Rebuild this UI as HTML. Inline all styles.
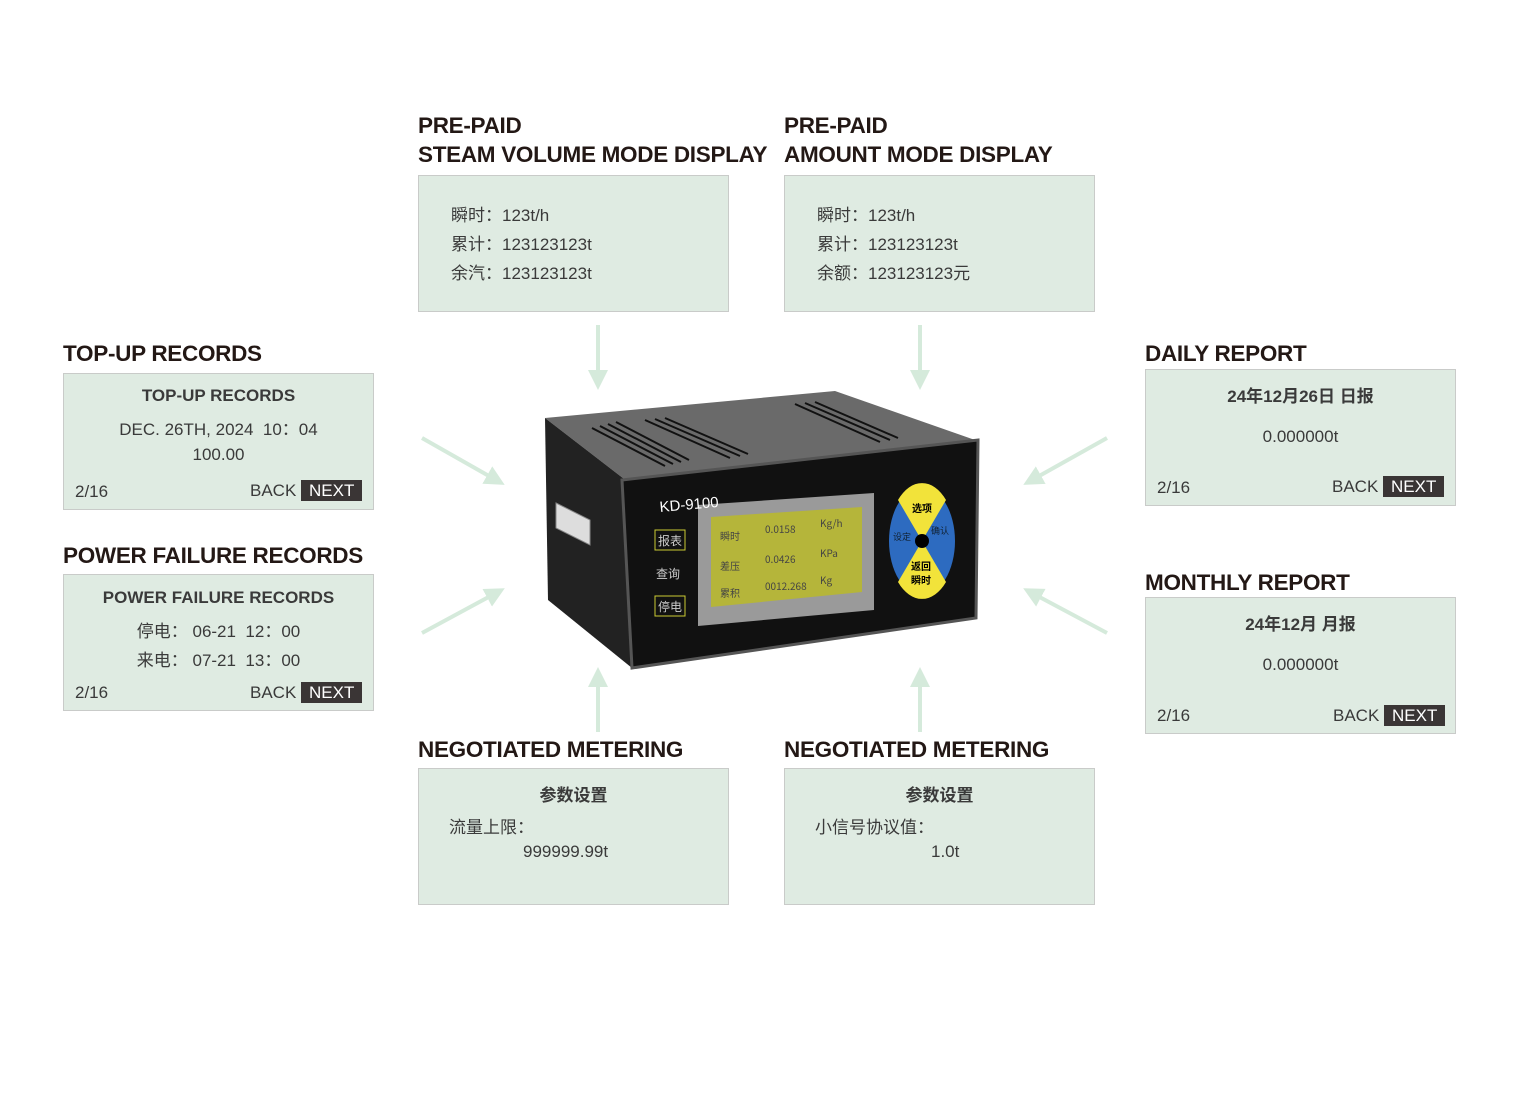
<!DOCTYPE html>
<html><head><meta charset="utf-8"><style>
body{margin:0;width:1520px;height:1095px;background:#fff;position:relative;font-family:"Liberation Sans","Noto Sans CJK SC",sans-serif;overflow:hidden}
.t{position:absolute;font-weight:bold;font-size:22.5px;color:#231815;line-height:29px;letter-spacing:-0.3px;white-space:nowrap}
.b{position:absolute;width:309px;height:135px;background:#dfebe2;border:1px solid #c9cbc9;box-sizing:border-box;color:#3a3a3a;font-size:17px}
.b div{position:absolute;white-space:nowrap}
.c{left:0;right:0;text-align:center}
.nx{background:#3a3535;color:#fff;padding:1px 8px}
.bold{font-weight:bold}
</style></head><body>
<div class="t" style="left:418px;top:111px">PRE-PAID<br>STEAM VOLUME MODE DISPLAY</div>
<div class="t" style="left:784px;top:111px">PRE-PAID<br>AMOUNT MODE DISPLAY</div>
<div class="t" style="left:63px;top:339px">TOP-UP RECORDS</div>
<div class="t" style="left:63px;top:541px">POWER FAILURE RECORDS</div>
<div class="t" style="left:1145px;top:339px">DAILY REPORT</div>
<div class="t" style="left:1145px;top:568px">MONTHLY REPORT</div>
<div class="t" style="left:418px;top:735px">NEGOTIATED METERING</div>
<div class="t" style="left:784px;top:735px">NEGOTIATED METERING</div>

<div class="b" style="left:418px;top:175px;height:137px;width:311px"><div style="left:32px;top:25px;line-height:29px">瞬时：123t/h<br>累计：123123123t<br>余汽：123123123t</div></div>
<div class="b" style="left:784px;top:175px;height:137px;width:311px"><div style="left:32px;top:25px;line-height:29px">瞬时：123t/h<br>累计：123123123t<br>余额：123123123元</div></div>

<div class="b" style="left:63px;top:373px;width:311px;height:137px">
<div class="c bold" style="top:12px">TOP-UP RECORDS</div>
<div class="c" style="top:41px">DEC. 26TH, 2024&nbsp; 10：04</div>
<div class="c" style="top:71px">100.00</div>
<div style="left:11px;top:108px">2/16</div>
<div style="left:186px;top:107px">BACK <span class="nx">NEXT</span></div></div>

<div class="b" style="left:63px;top:574px;width:311px;height:137px">
<div class="c bold" style="top:13px">POWER FAILURE RECORDS</div>
<div class="c" style="top:42px">停电：&nbsp;06-21&nbsp; 12：00</div>
<div class="c" style="top:71px">来电：&nbsp;07-21&nbsp; 13：00</div>
<div style="left:11px;top:108px">2/16</div>
<div style="left:186px;top:108px">BACK <span class="nx">NEXT</span></div></div>

<div class="b" style="left:1145px;top:369px;width:311px;height:137px">
<div class="c bold" style="top:12px">24年12月26日 日报</div>
<div class="c" style="top:57px">0.000000t</div>
<div style="left:11px;top:108px">2/16</div>
<div style="left:186px;top:107px">BACK <span class="nx">NEXT</span></div></div>

<div class="b" style="left:1145px;top:597px;width:311px;height:137px">
<div class="c bold" style="top:12px">24年12月 月报</div>
<div class="c" style="top:57px">0.000000t</div>
<div style="left:11px;top:108px">2/16</div>
<div style="left:187px;top:108px">BACK <span class="nx">NEXT</span></div></div>

<div class="b" style="left:418px;top:768px;width:311px;height:137px">
<div class="c bold" style="top:12px">参数设置</div>
<div style="left:30px;top:44px">流量上限：</div>
<div style="left:104px;top:73px">999999.99t</div></div>
<div class="b" style="left:784px;top:768px;width:311px;height:137px">
<div class="c bold" style="top:12px">参数设置</div>
<div style="left:30px;top:44px">小信号协议值：</div>
<div style="left:146px;top:73px">1.0t</div></div>

<svg width="1520" height="1095" style="position:absolute;left:0;top:0">
<defs><marker id="a" markerWidth="5" markerHeight="5" refX="2.5" refY="2.5" orient="auto" markerUnits="strokeWidth"><path d="M0,0L5,2.5L0,5z" fill="#d5eadb"/></marker></defs>
<g stroke="#d5eadb" stroke-width="4" marker-end="url(#a)">
<line x1="598" y1="325" x2="598" y2="380"/><line x1="920" y1="325" x2="920" y2="380"/>
<line x1="598" y1="732" x2="598" y2="677"/><line x1="920" y1="732" x2="920" y2="677"/>
<line x1="422" y1="438" x2="496" y2="480"/><line x1="422" y1="633" x2="496" y2="593"/>
<line x1="1107" y1="438" x2="1032" y2="480"/><line x1="1107" y1="633" x2="1032" y2="593"/>
</g>
<polygon points="545,418 835,391 975,440 628,482" fill="#6a6a6a"/>
<polygon points="545,418 628,482 632,668 548,600" fill="#222"/>
<g stroke="#111" stroke-width="2">
<line x1="592" y1="428" x2="665" y2="466"/><line x1="600" y1="426" x2="673" y2="464"/><line x1="608" y1="424" x2="681" y2="462"/><line x1="616" y1="422" x2="689" y2="460"/>
<line x1="645" y1="420" x2="730" y2="458"/><line x1="655" y1="419" x2="740" y2="456"/><line x1="665" y1="418" x2="748" y2="454"/>
<line x1="795" y1="404" x2="880" y2="442"/><line x1="805" y1="403" x2="890" y2="440"/><line x1="815" y1="402" x2="898" y2="438"/>
</g>
<polygon points="556,503 590,520 590,545 556,528" fill="#ddd" stroke="#888"/>
<polygon points="622,480 978,440 976,618 632,668" fill="#111" stroke="#555" stroke-width="3"/>
<polygon points="698,505 874,493 874,610 698,626" fill="#9a9a9a"/>
<polygon points="711,517 862,507 862,592 711,607" fill="#b5b53a"/>
<text x="660" y="512" fill="#fff" font-size="15" font-family="Liberation Sans" transform="rotate(-5 660 512)">KD-9100</text>
<g font-size="10" fill="#444" font-family="Noto Sans CJK SC"><text x="720" y="540">瞬时</text><text x="765" y="533">0.0158</text><text x="820" y="527">Kg/h</text>
<text x="720" y="570">差压</text><text x="765" y="563">0.0426</text><text x="820" y="557">KPa</text>
<text x="720" y="597">累积</text><text x="765" y="590">0012.268</text><text x="820" y="584">Kg</text></g>
<rect x="655" y="530" width="30" height="20" fill="none" stroke="#cc3"/><rect x="655" y="596" width="30" height="20" fill="none" stroke="#cc3"/>
<g font-size="12" fill="#ccc" font-family="Noto Sans CJK SC"><text x="658" y="545">报表</text><text x="656" y="578">查询</text><text x="658" y="611">停电</text></g>
<ellipse cx="922" cy="541" rx="33" ry="54" fill="#2d6bc0"/>
<path d="M922,541 L898,500 A33,54 0 0 1 946,500z" fill="#f2e33a"/>
<path d="M922,541 L898,582 A33,54 0 0 0 946,582z" fill="#f2e33a"/>
<circle cx="922" cy="541" r="7" fill="#000"/>
<g font-size="10" font-family="Noto Sans CJK SC" font-weight="bold"><text x="912" y="512">选项</text><text x="911" y="570">返回</text><text x="911" y="584">瞬时</text></g>
<g font-size="9" font-family="Noto Sans CJK SC" fill="#123"><text x="893" y="540">设定</text><text x="931" y="534">确认</text></g>
</svg>
</body></html>
